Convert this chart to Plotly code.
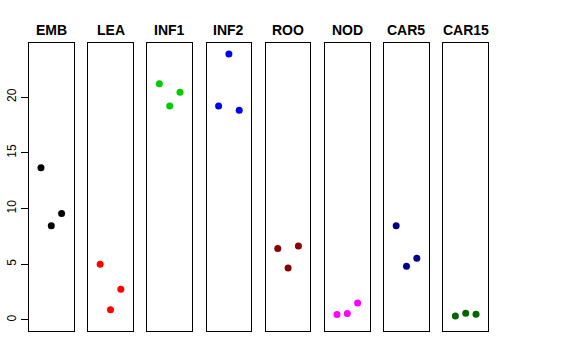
import plotly.graph_objects as go

tissues = ["EMB", "LEA", "INF1", "INF2", "ROO", "NOD", "CAR5", "CAR15"]
colors = ["#000000", "#FF0000", "#00CD00", "#0000FF", "#8B0000", "#FF00FF", "#00008B", "#006400"]
rep_x = [1, 2, 3]
emb = [13.65, 8.45, 9.56]
lea = [4.99, 0.92, 2.75]
inf1 = [21.2, 19.2, 20.43]
inf2 = [19.2, 23.86, 18.82]
roo = [6.42, 4.66, 6.63]
nod = [0.48, 0.57, 1.52]
car5 = [8.45, 4.81, 5.53]
car15 = [0.36, 0.60, 0.51]
series = [emb, lea, inf1, inf2, roo, nod, car5, car15]
y_ticks = [0, 5, 10, 15, 20]

W, H = 576, 360
ml, mr, mt, mb = 28.7, 88.3, 42.7, 29
pw = W - ml - mr
n = len(tissues)
panel_w = 44.6
gap = (pw - n * panel_w) / (n - 1)

fig = go.Figure()
layout = dict(
    width=W, height=H,
    margin=dict(l=ml, r=mr, t=mt, b=mb, pad=0, autoexpand=False),
    paper_bgcolor="white", plot_bgcolor="white",
    showlegend=False,
    font=dict(family="Liberation Sans, Arial, sans-serif", color="black", size=12),
)
annotations = []
for i, (name, col, vals) in enumerate(zip(tissues, colors, series)):
    k = "" if i == 0 else str(i + 1)
    x0 = i * (panel_w + gap) / pw
    x1 = (i * (panel_w + gap) + panel_w) / pw
    fig.add_trace(go.Scatter(
        x=rep_x, y=vals, mode="markers",
        marker=dict(color=col, size=7, line=dict(width=0)),
        xaxis="x" + k, yaxis="y" + k, hoverinfo="y",
    ))
    layout["xaxis" + k] = dict(
        domain=[x0, x1], range=[-0.16, 4.16], anchor="y" + k, automargin=False,
        showgrid=False, zeroline=False, showticklabels=False, ticks="",
        showline=True, mirror=True, linecolor="black", linewidth=1,
    )
    ya = dict(
        range=[-0.99, 24.85], anchor="x" + k, automargin=False,
        showgrid=False, zeroline=False,
        showline=True, mirror=True, linecolor="black", linewidth=1,
    )
    if i == 0:
        ya.update(tickvals=y_ticks, ticks="outside", ticklen=7, tickwidth=1,
                  tickcolor="black", tickangle=-90,
                  tickfont=dict(size=12, color="black"))
    else:
        ya.update(showticklabels=False, ticks="")
    layout["yaxis" + k] = ya
    annotations.append(dict(
        text="<b>" + name + "</b>", x=(x0 + x1) / 2, y=1, xref="paper", yref="paper",
        xanchor="center", yanchor="bottom", yshift=3, showarrow=False,
        font=dict(size=14, color="black"),
    ))
layout["annotations"] = annotations
fig.update_layout(**layout)
fig.write_html(
    "out.html",
    config={"displayModeBar": False},
    post_script="document.body.style.margin='0';document.body.style.padding='0';",
)
